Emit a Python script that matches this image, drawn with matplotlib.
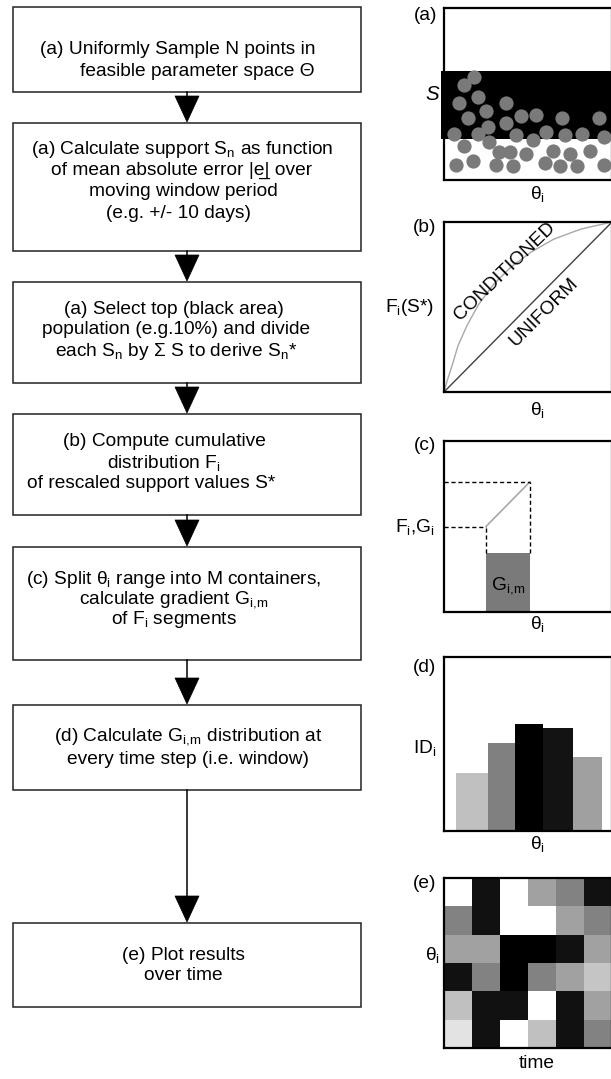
import matplotlib
matplotlib.use('Agg')
import matplotlib.pyplot as plt
from matplotlib.patches import Rectangle, Polygon

plt.rcParams['font.family'] = ['Liberation Sans', 'DejaVu Sans']
plt.rcParams['mathtext.fontset'] = 'custom'
plt.rcParams['mathtext.rm'] = 'Liberation Sans'
plt.rcParams['mathtext.it'] = 'Liberation Sans:italic'
plt.rcParams['mathtext.default'] = 'rm'

W, H = 611, 1079
FS = 13.8
GIM = 'G$_{\\mathrm{i},\\!\\mathrm{m}}$'

# ---- flowchart steps ----
steps = [
    ["(a) Uniformly Sample N points in",
     "feasible parameter space Θ"],
    ["(a) Calculate support S$_\\mathrm{n}$ as function",
     "of mean absolute error |e\u0332| over",
     "moving window period",
     "(e.g. +/- 10 days)"],
    ["(a) Select top (black area)",
     "population (e.g.10%) and divide",
     "each S$_\\mathrm{n}$ by Σ S to derive S$_\\mathrm{n}$*"],
    ["(b) Compute cumulative",
     "distribution F$_\\mathrm{i}$",
     "of rescaled support values S*"],
    ["(c) Split θ$_\\mathrm{i}$ range into M containers,",
     "calculate gradient " + GIM,
     "of F$_\\mathrm{i}$ segments"],
    ["(d) Calculate " + GIM + " distribution at",
     "every time step (i.e. window)"],
    ["(e) Plot results",
     "over time"],
]

# ---- panel (a): sampled points (theta, support) ----
pts_theta = [0.18, 0.12, 0.20, 0.09, 0.25, 0.37, 0.14, 0.37, 0.46, 0.55,
             0.26, 0.20, 0.06, 0.43, 0.61, 0.70, 0.72, 0.82, 0.92, 0.53,
             0.95, 0.12, 0.27, 0.33, 0.39, 0.49, 0.65, 0.75, 0.87, 0.07,
             0.17, 0.31, 0.41, 0.60, 0.69, 0.79, 0.95]
pts_support = [0.60, 0.55, 0.48, 0.45, 0.40, 0.45, 0.36, 0.33, 0.37, 0.38,
               0.31, 0.27, 0.27, 0.26, 0.28, 0.36, 0.26, 0.27, 0.36, 0.23,
               0.25, 0.20, 0.22, 0.16, 0.16, 0.15, 0.17, 0.15, 0.17, 0.09,
               0.11, 0.09, 0.08, 0.10, 0.08, 0.08, 0.09]
top_band = [0.238, 0.634]

# ---- panel (b): cumulative distributions ----
cond_theta = [0.0, 0.02, 0.048, 0.084, 0.138, 0.204, 0.293, 0.395, 0.515,
              0.653, 0.814, 1.0]
cond_F = [0.0, 0.07, 0.155, 0.274, 0.393, 0.512, 0.631, 0.732, 0.821,
          0.899, 0.958, 1.0]
unif_theta = [0.0, 1.0]
unif_F = [0.0, 1.0]

# ---- panel (c): one segment of F and its gradient ----
seg_theta = [0.25, 0.51]
seg_F = [0.50, 0.76]
seg_G = 0.345

# ---- panel (d): distribution of gradients ----
bar_edges = [0.071, 0.260, 0.420, 0.592, 0.769, 0.941]
bar_heights = [0.333, 0.506, 0.615, 0.592, 0.425]
bar_greys = ['#c0c0c0', '#808080', '#000000', '#131313', '#a0a0a0']

# ---- panel (e): gradient intensity over time (1 = white) ----
time_grid = [
    [1.00, 0.07, 1.00, 0.63, 0.51, 0.07],
    [0.51, 0.07, 1.00, 1.00, 0.63, 0.51],
    [0.63, 0.63, 0.00, 0.00, 0.07, 0.63],
    [0.07, 0.51, 0.00, 0.51, 0.63, 0.77],
    [0.75, 0.07, 0.07, 1.00, 0.07, 0.63],
    [0.89, 0.07, 1.00, 0.75, 0.07, 0.51],
]

fig = plt.figure(figsize=(W / 100, H / 100), dpi=100)
bg = fig.add_axes([0, 0, 1, 1])
bg.set_xlim(0, W)
bg.set_ylim(H, 0)
bg.axis('off')


def px_axes(x0, y0, x1, y1):
    ax = fig.add_axes([x0 / W, 1 - y1 / H, (x1 - x0) / W, (y1 - y0) / H])
    ax.set_xlim(0, 1)
    ax.set_ylim(0, 1)
    ax.set_xticks([])
    ax.set_yticks([])
    for sp in ax.spines.values():
        sp.set_linewidth(1.6)
        sp.set_color('black')
    return ax


# boxes: (top, bottom), text line centres
box_left, box_right = 13, 361
box_rows = [(7, 92), (123, 251), (282, 383), (414, 515), (547, 660),
            (705, 790), (923, 1007)]
line_pos = [
    [(178, 50), (197, 71)],
    [(182, 149), (182, 170), (183, 192), (178, 214)],
    [(174, 309), (176, 330), (176, 352)],
    [(164, 442), (164, 463), (151, 484)],
    [(174, 579), (174, 600), (174, 620)],
    [(188, 737), (188, 759)],
    [(183, 955), (183, 976)],
]

for (top, bot), lines, pos in zip(box_rows, steps, line_pos):
    bg.add_patch(Rectangle((box_left, top), box_right - box_left, bot - top,
                           fill=False, ec='#222222', lw=1.1))
    for s, (x, y) in zip(lines, pos):
        bg.text(x, y, s, ha='center', va='center', fontsize=FS)

# arrows between boxes
cx = (box_left + box_right) / 2
for (t0, b0), (t1, b1) in zip(box_rows[:-1], box_rows[1:]):
    head = t1 - 27
    bg.plot([cx, cx], [b0, head + 1], color='black', lw=1.1)
    bg.add_patch(Polygon([(cx - 12, head), (cx + 12, head), (cx, t1 - 1)],
                         closed=True, fc='black', ec='black', lw=0.5))

# panel (a)
ax = px_axes(444, 8, 612, 180)
ax.add_patch(Rectangle((-0.018, top_band[0]), 1.1, top_band[1] - top_band[0],
                       fc='black', ec='none', clip_on=False, zorder=1))
ax.scatter(pts_theta, pts_support, s=105, color='#7a7a7a', lw=0, zorder=3)
bg.text(426, 15, '(a)', ha='center', va='center', fontsize=FS)
bg.text(432, 94, 'S', ha='center', va='center', fontsize=FS + 1, style='italic')
bg.text(537, 194, 'θ$_\\mathrm{i}$', ha='center', va='center', fontsize=FS)

# panel (b)
ax = px_axes(444, 222, 612, 392)
ax.plot(cond_theta, cond_F, color='#a8a8a8', lw=1.0)
ax.plot(unif_theta, unif_F, color='#404040', lw=1.0)
ax.text(0.36, 0.71, 'CONDITIONED', rotation=44, ha='center', va='center',
        rotation_mode='anchor', fontsize=FS)
ax.text(0.595, 0.47, 'UNIFORM', rotation=45, ha='center', va='center',
        rotation_mode='anchor', fontsize=FS)
bg.text(425, 228, '(b)', ha='center', va='center', fontsize=FS)
bg.text(410, 307, 'F$_\\mathrm{i}$(S*)', ha='center', va='center', fontsize=FS)
bg.text(537, 410, 'θ$_\\mathrm{i}$', ha='center', va='center', fontsize=FS)

# panel (c)
ax = px_axes(444, 441, 612, 612)
ax.bar([(seg_theta[0] + seg_theta[1]) / 2], [seg_G],
       width=seg_theta[1] - seg_theta[0], color='#7a7a7a', zorder=1)
ax.plot(seg_theta, seg_F, color='#a8a8a8', lw=1.2)
for th, f in zip(seg_theta, seg_F):
    ax.plot([0, th], [f, f], color='black', lw=1.0, ls=(0, (3, 2)))
    ax.plot([th, th], [seg_G, f], color='black', lw=1.0, ls=(0, (3, 2)))
ax.text((seg_theta[0] + seg_theta[1]) / 2, seg_G * 0.45, GIM,
        ha='center', va='center', fontsize=FS)
bg.text(425, 445, '(c)', ha='center', va='center', fontsize=FS)
bg.text(415, 527, 'F$_\\mathrm{i}$,G$_\\mathrm{i}$', ha='center', va='center',
        fontsize=FS)
bg.text(537, 624, 'θ$_\\mathrm{i}$', ha='center', va='center', fontsize=FS)

# panel (d)
ax = px_axes(444, 657, 612, 831)
lefts = bar_edges[:-1]
widths = [b - a for a, b in zip(bar_edges[:-1], bar_edges[1:])]
ax.bar(lefts, bar_heights, width=widths, align='edge', color=bar_greys,
       edgecolor='none')
bg.text(425, 667, '(d)', ha='center', va='center', fontsize=FS)
bg.text(425, 748, 'ID$_\\mathrm{i}$', ha='center', va='center', fontsize=FS)
bg.text(537, 844, 'θ$_\\mathrm{i}$', ha='center', va='center', fontsize=FS)

# panel (e)
ax = px_axes(444, 878, 612, 1048)
ax.imshow(time_grid, cmap='gray', vmin=0, vmax=1, extent=[0, 1, 0, 1],
          aspect='auto', interpolation='nearest')
bg.text(425, 883, '(e)', ha='center', va='center', fontsize=FS)
bg.text(432, 955, 'θ$_\\mathrm{i}$', ha='center', va='center', fontsize=FS)
bg.text(537, 1063, 'time', ha='center', va='center', fontsize=FS)

fig.savefig('out.png', dpi=100)
